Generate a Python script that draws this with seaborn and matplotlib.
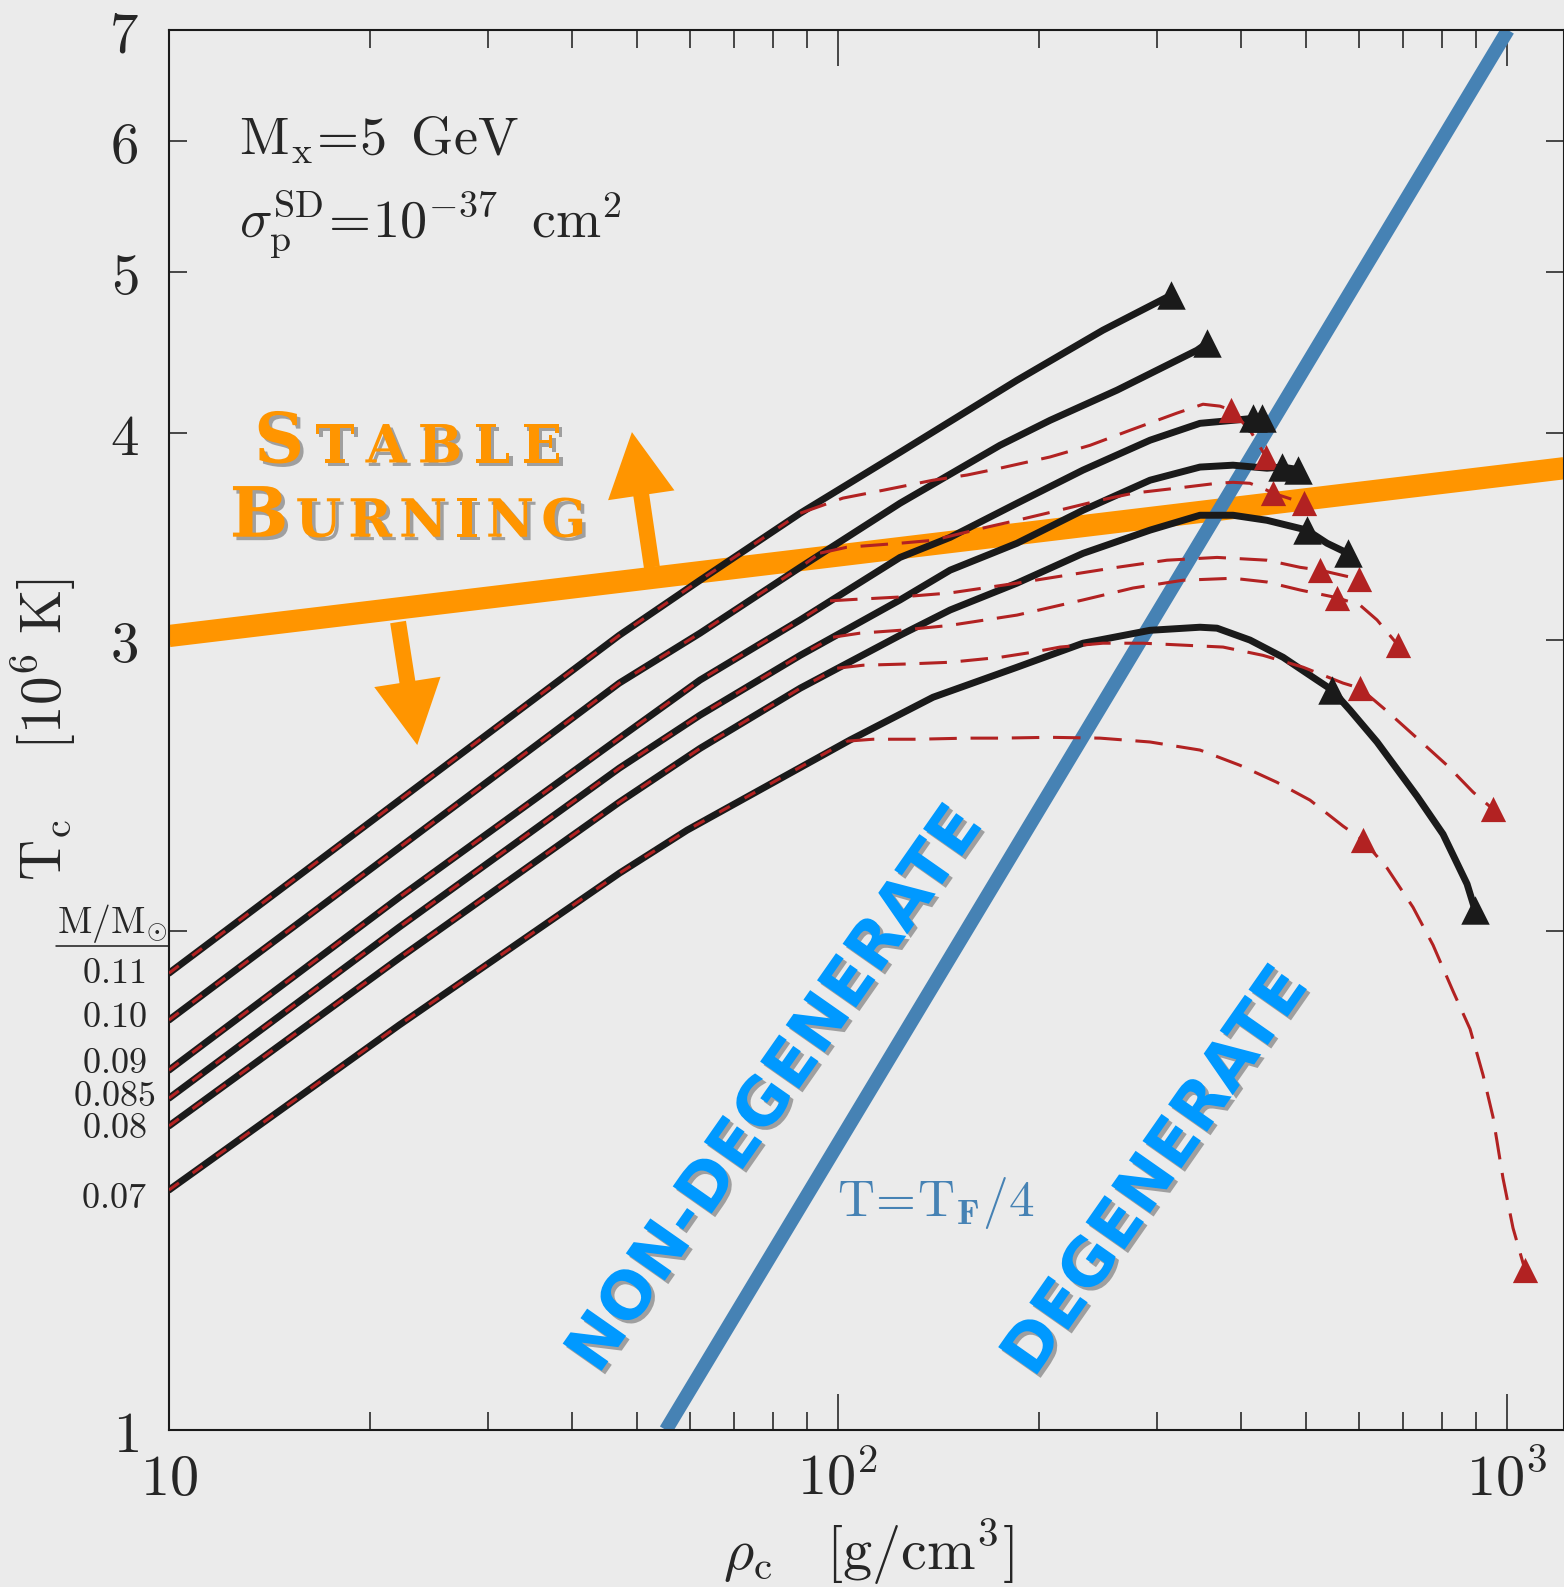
import matplotlib
matplotlib.use("Agg")
import matplotlib.pyplot as plt
import matplotlib.patheffects as pe
from matplotlib.offsetbox import TextArea, HPacker, AnnotationBbox
from matplotlib.ticker import NullFormatter, NullLocator
import seaborn as sns

# ---- data (rho_c in g/cm^3, T_c in 1e6 K) ----
masses = ["0.11", "0.10", "0.09", "0.085", "0.08", "0.07"]
mass_label_T = [1.887, 1.775, 1.665, 1.591, 1.522, 1.380]

# solid black tracks
rho_b011 = [10, 22.1, 47.1, 62.2, 87.8, 123.8, 185.2, 248.9, 314.6]
T_b011 = [1.887, 2.400, 3.018, 3.258, 3.576, 3.892, 4.302, 4.612, 4.842]
rho_b010 = [10, 22.1, 47.1, 62.2, 87.8, 123.8, 174.6, 207.5, 261.2, 344.0, 356.1]
T_b010 = [1.768, 2.247, 2.824, 3.027, 3.317, 3.626, 3.930, 4.069, 4.243, 4.485, 4.529]
rho_b009 = [10, 22.1, 47.1, 62.2, 87.8, 123.8, 147.1, 185.2, 232.4, 292.7, 347.6, 389.4, 417.2, 430.3]
T_b009 = [1.649, 2.097, 2.616, 2.836, 3.083, 3.363, 3.458, 3.626, 3.797, 3.958, 4.052, 4.069, 4.080, 4.080]
rho_b0085 = [10, 22.1, 47.1, 62.2, 87.8, 123.8, 147.1, 185.2, 232.4, 292.7, 347.6, 389.4, 437.8, 461.1, 487.2]
T_b0085 = [1.586, 2.012, 2.509, 2.701, 2.935, 3.170, 3.304, 3.430, 3.591, 3.744, 3.813, 3.823, 3.807, 3.813, 3.800]
rho_b008 = [10, 22.1, 47.1, 62.2, 87.8, 123.8, 147.1, 185.2, 232.4, 292.7, 347.6, 389.4, 437.8, 502.4, 538.2, 578.5]
T_b008 = [1.526, 1.927, 2.393, 2.579, 2.804, 3.018, 3.126, 3.245, 3.382, 3.493, 3.566, 3.566, 3.541, 3.493, 3.430, 3.382]
rho_b007 = [10, 22.1, 47.1, 59.5, 104.2, 138.7, 185.2, 232.4, 292.7, 347.6, 368.6, 412.9, 462.7,
            520.0, 547.6, 582.5, 639.3, 733.7, 802.4, 871.5, 895.9]
T_b007 = [1.396, 1.756, 2.168, 2.302, 2.609, 2.769, 2.887, 2.985, 3.039, 3.052, 3.048, 2.998, 2.927,
          2.836, 2.797, 2.720, 2.602, 2.413, 2.289, 2.136, 2.060]

# dashed red tracks, from where they leave the black ones
rho_r011 = [87.8, 101.7, 116.8, 138.7, 155.9, 174.6, 207.5, 238.1, 273.2, 321.1, 351.2, 372.4, 386.8, 412.9, 436.3]
T_r011 = [3.576, 3.652, 3.692, 3.744, 3.771, 3.807, 3.867, 3.930, 4.013, 4.110, 4.161, 4.150, 4.127, 4.013, 3.867]
rho_r010 = [94.0, 103.1, 123.8, 138.7, 164.7, 185.2, 207.5, 246.4, 276.1, 321.1, 368.6, 389.4, 412.9, 437.8, 447.0, 497.4]
T_r010 = [3.383, 3.411, 3.430, 3.444, 3.503, 3.541, 3.580, 3.641, 3.677, 3.703, 3.728, 3.733, 3.728, 3.692, 3.677, 3.626]
rho_r009 = [97.3, 105.3, 123.8, 147.1, 185.2, 219.9, 261.2, 310.3, 368.6, 437.8, 490.6, 525.4, 600.8]
T_r009 = [3.166, 3.172, 3.183, 3.201, 3.245, 3.281, 3.317, 3.350, 3.363, 3.350, 3.317, 3.304, 3.263]
rho_r0085 = [98.3, 107.9, 123.8, 147.1, 185.2, 232.4, 276.1, 327.8, 389.4, 437.8, 490.6, 557.1, 603.0, 639.3, 687.3]
T_r0085 = [3.010, 3.027, 3.039, 3.060, 3.104, 3.170, 3.223, 3.258, 3.267, 3.250, 3.214, 3.180, 3.147, 3.083, 2.977]
rho_r008 = [99.7, 109.0, 126.8, 147.1, 174.6, 195.6, 214.7, 248.9, 285.7, 327.8, 376.3, 431.8, 495.7, 568.7,
            603.0, 661.7, 733.7, 813.6, 889.7, 953.0]
T_r008 = [2.883, 2.895, 2.900, 2.907, 2.927, 2.948, 2.969, 2.985, 2.985, 2.977, 2.969, 2.935, 2.887, 2.824,
          2.804, 2.716, 2.616, 2.519, 2.427, 2.370]
rho_r007 = [103.1, 112.8, 131.3, 155.9, 174.6, 207.5, 246.4, 292.7, 347.6, 398.9, 453.2, 507.6, 568.7, 609.3,
            661.7, 723.6, 775.3, 830.6, 880.6, 920.8, 953.0, 986.3, 1020.9, 1064.0]
T_r007 = [2.605, 2.612, 2.612, 2.616, 2.616, 2.619, 2.616, 2.602, 2.573, 2.519, 2.460, 2.400, 2.315, 2.270,
          2.184, 2.068, 1.962, 1.840, 1.746, 1.638, 1.545, 1.419, 1.324, 1.249]

# triangle markers
tri_black_rho = [314.6, 356.1, 417.2, 430.3, 461.1, 487.2, 502.4, 578.5, 547.6, 895.9]
tri_black_T = [4.842, 4.529, 4.080, 4.080, 3.813, 3.800, 3.493, 3.382, 2.797, 2.060]
tri_red_rho = [386.8, 436.3, 447.0, 497.4, 525.4, 600.8, 557.1, 687.3, 603.0, 953.0, 609.3, 1064.0]
tri_red_T = [4.127, 3.867, 3.677, 3.626, 3.304, 3.263, 3.180, 2.977, 2.804, 2.370, 2.270, 1.249]

# T = T_F/4 line and stable burning line
rho_tf = [55.3, 1003.0]
T_tf = [1.0, 7.0]
rho_sb = [10, 1217]
T_sb = [3.015, 3.807]

black = [(rho_b011, T_b011), (rho_b010, T_b010), (rho_b009, T_b009),
         (rho_b0085, T_b0085), (rho_b008, T_b008), (rho_b007, T_b007)]
red = [(rho_r011, T_r011), (rho_r010, T_r010), (rho_r009, T_r009),
       (rho_r0085, T_r0085), (rho_r008, T_r008), (rho_r007, T_r007)]

sns.set_theme(style="ticks")
plt.rcParams["mathtext.fontset"] = "cm"
plt.rcParams["font.family"] = ["DejaVu Serif"]
bg = "#ebebeb"
orange = "#ff9500"
steel = "#4682b4"
fire = "#b22222"

fig = plt.figure(figsize=(15.64, 15.87), dpi=100)
fig.patch.set_facecolor(bg)
ax = fig.add_axes([169 / 1564, 1 - 1430 / 1587, 1395 / 1564, 1400 / 1587])
ax.set_facecolor(bg)
ax.set_xscale("log")
ax.set_yscale("log")

sns.lineplot(x=rho_sb, y=T_sb, ax=ax, color=orange, lw=16, solid_capstyle="butt", zorder=1)
sns.lineplot(x=rho_tf, y=T_tf, ax=ax, color=steel, lw=10, solid_capstyle="butt", zorder=2)

for (rb, tb), (rr, tr) in zip(black, red):
    sns.lineplot(x=rb, y=tb, ax=ax, color="k", lw=5, sort=False, estimator=None, zorder=3)
    # red dashes on top of the common part
    rov = [r for r in rb if r < rr[0]] + [rr[0]]
    tov = [t for r, t in zip(rb, tb) if r < rr[0]] + [tr[0]]
    sns.lineplot(x=rov, y=tov, ax=ax, color=fire, lw=2.2, ls=(0, (4, 5.5)),
                 sort=False, estimator=None, zorder=4)
    sns.lineplot(x=rr, y=tr, ax=ax, color=fire, lw=2.2, ls=(0, (9, 4.5)),
                 sort=False, estimator=None, zorder=4)

sns.scatterplot(x=tri_red_rho, y=tri_red_T, ax=ax, marker="^", s=330, color=fire,
                linewidth=0, zorder=5, legend=False)
sns.scatterplot(x=tri_black_rho, y=tri_black_T, ax=ax, marker="^", s=420, color="k",
                linewidth=0, zorder=6, legend=False)

ax.set_xlim(10, 1216.7)
ax.set_ylim(1, 7)

# arrows off the stable burning line
arrow_kw = dict(arrowstyle="simple,head_length=1.0,head_width=1.05,tail_width=0.25",
                color=orange, lw=0, shrinkA=0, shrinkB=0, mutation_scale=46)
ax.annotate("", xy=(49.2, 4.003), xytext=(52.7, 3.317), arrowprops=arrow_kw, zorder=1)
ax.annotate("", xy=(23.5, 2.591), xytext=(22.0, 3.074), arrowprops=arrow_kw, zorder=1)

# ticks
ax.set_xticks([10, 100, 1000], [r"$10$", r"$10^2$", r"$10^3$"])
ax.xaxis.set_minor_formatter(NullFormatter())
ax.set_yticks([1, 2, 3, 4, 5, 6, 7], [r"$1$", "", r"$3$", r"$4$", r"$5$", r"$6$", r"$7$"])
ax.yaxis.set_minor_locator(NullLocator())
ax.tick_params(which="both", direction="in", top=True, right=True, width=1.1, color="k")
ax.tick_params(axis="x", which="major", length=26, pad=47, labelsize=42)
ax.tick_params(axis="x", which="minor", length=13)
ax.tick_params(axis="y", which="major", length=13, pad=22, labelsize=41)
for lab in ax.get_xticklabels():
    lab.set_va("baseline")
for s in ax.spines.values():
    s.set_linewidth(1.5)
    s.set_color("k")

# axis labels
ax.text(0.501, -0.088, r"$\rho_{\mathrm{c}}\ \ \ [\mathrm{g/cm^3}]$", transform=ax.transAxes,
        ha="center", va="center", fontsize=42)
ax.text(-0.0896, 0.50, r"$\mathrm{T_c\ \ \ \ [10^6\ K]}$", transform=ax.transAxes,
        rotation=90, ha="center", va="center", fontsize=41)

# mass labels on the left
for m, t in zip(masses, mass_label_T):
    ax.text(-0.0394, t, r"$%s$" % m, transform=ax.get_yaxis_transform(),
            ha="center", va="center", fontsize=26)
ax.text(-0.041, 0.355, r"$\mathrm{M/M_{\odot}}$", transform=ax.transAxes,
        ha="center", va="baseline", fontsize=27)
ax.plot([-0.081, 0], [0.3457, 0.3457], transform=ax.transAxes, clip_on=False, color="k", lw=1.1)

# annotations
ax.text(0.0502, 0.9107, r"$\mathrm{M_x\!=\!5\ \,GeV}$", transform=ax.transAxes,
        ha="left", va="baseline", fontsize=39)
ax.text(0.0502, 0.8514, r"$\sigma_{\mathrm{p}}^{\mathrm{SD}}\!=\!10^{-37}\ \ \mathrm{cm}^2$",
        transform=ax.transAxes, ha="left", va="baseline", fontsize=39)
ax.text(0.4789, 0.1529, r"$\mathrm{T\!=\!T_{\mathbf{F}}/4}$", transform=ax.transAxes,
        ha="left", va="baseline", fontsize=37, color=steel)

shadow = [pe.withSimplePatchShadow(offset=(2.5, -2.5), shadow_rgbFace="#444444", alpha=0.45)]
blue_kw = dict(transform=ax.transAxes, rotation=55, rotation_mode="anchor", ha="center", va="center",
               fontsize=47, fontweight="bold", family="DejaVu Sans", color="#0099ff",
               path_effects=shadow, zorder=7)
ax.text(0.4354, 0.2429, "NON-DEGENERATE", **blue_kw)
ax.text(0.7082, 0.1843, "DEGENERATE", **blue_kw)

sb_props = dict(color=orange, fontweight="bold", family="DejaVu Serif", path_effects=shadow)


def small_caps(word, big, small, sep):
    kids = [TextArea(word[0], textprops=dict(fontsize=big, **sb_props))]
    kids += [TextArea(c, textprops=dict(fontsize=small, **sb_props)) for c in word[1:]]
    return HPacker(children=kids, align="baseline", pad=0, sep=sep)


for word, yy, sep in [("STABLE", 0.705, 8.0), ("BURNING", 0.652, 5.0)]:
    ab = AnnotationBbox(small_caps(word, 50, 38, sep), (0.1713, yy), xycoords="axes fraction",
                        frameon=False, box_alignment=(0.5, 0.5), zorder=7)
    ax.add_artist(ab)

fig.savefig("out.png", dpi=100, facecolor=bg)
